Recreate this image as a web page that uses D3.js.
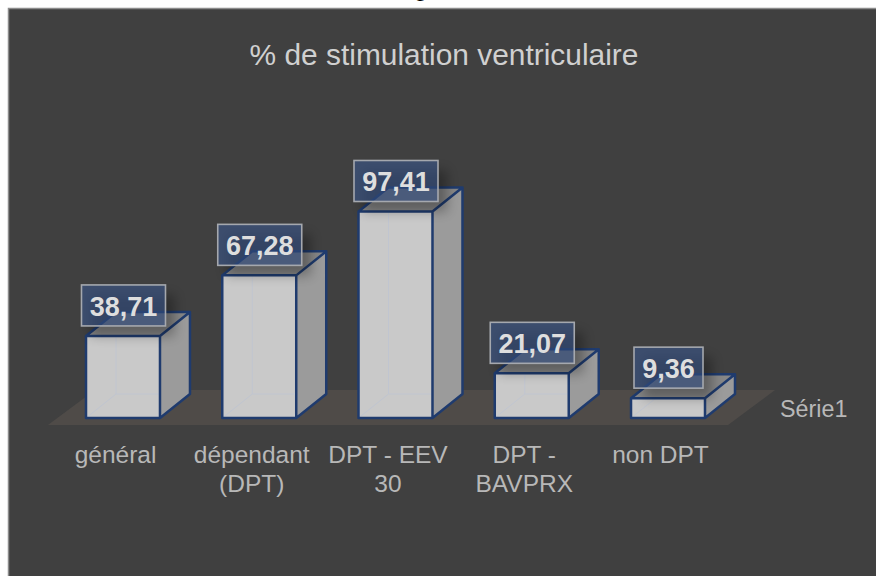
<!DOCTYPE html>
<html><head><meta charset="utf-8">
<script src="https://cdn.jsdelivr.net/npm/d3@7"></script>
<style>html,body{margin:0;padding:0;background:#fff}svg{display:block}text{font-family:"Liberation Sans",Arial,sans-serif}</style>
</head><body><div id="c"></div>
<script>
const categories = [["général"],["dépendant","(DPT)"],["DPT - EEV","30"],["DPT -","BAVPRX"],["non DPT"]];
const values = [38.71,67.28,97.41,21.07,9.36];
const valueLabels = ["38,71","67,28","97,41","21,07","9,36"];
const seriesName = "Série1";
const titleText = "% de stimulation ventriculaire";

const W=876,H=576, dx=30, dy=-24, base=418;
const svg=d3.select("#c").append("svg").attr("width",W).attr("height",H);
const defs=svg.append("defs");
defs.append("filter").attr("id","blur").attr("x","-40%").attr("y","-40%").attr("width","180%").attr("height","180%")
  .append("feGaussianBlur").attr("stdDeviation",6);
const x=d3.scaleBand().domain(d3.range(values.length)).range([86,705]).paddingInner(0.457).paddingOuter(0);
const y=d3.scaleLinear().domain([0,100]).range([base,base-212]);
const bw=x.bandwidth();

svg.append("text").text("g").attr("x",414).attr("y",-4).attr("font-size",24).attr("fill","#000");
svg.append("rect").attr("x",8).attr("y",8).attr("width",W-8).attr("height",H-8).attr("fill","#404040");
svg.append("path").attr("d",`M8.5,${H}V8.5H${W}`).attr("fill","none").attr("stroke","#8c8c8c").attr("stroke-width",1.5);
svg.append("text").text(titleText).attr("x",444).attr("y",65).attr("text-anchor","middle").attr("font-size",29.9).attr("fill","#d0d0d0");

// floor
svg.append("polygon").attr("points",[[48,425],[728,425],[775,390],[95,390]].join(" ")).attr("fill","#4f4b48");

const g=svg.selectAll("g.bar").data(values).join("g").attr("class","bar");
const navy="#1f3b6e";
g.each(function(v,i){
  const s=d3.select(this), l=x(i), r=l+bw, t=y(v);
  const pt=a=>a.map(p=>p.join(",")).join(" ");
  s.append("polygon").attr("points",pt([[l,t],[r,t],[r,base],[l,base]])).attr("fill","#c9c9c9");
  s.append("path").attr("d",`M${l},${base}L${l+dx},${base+dy}H${r+dx}M${l+dx},${base+dy}V${t+dy}`)
    .attr("fill","none").attr("stroke","#c0c5d0").attr("stroke-width",1);
  s.append("polygon").attr("points",pt([[r,t],[r+dx,t+dy],[r+dx,base+dy],[r,base]])).attr("fill","#9b9b9b");
  s.append("polygon").attr("points",pt([[l,t],[l+dx,t+dy],[r+dx,t+dy],[r,t]])).attr("fill","#878787");
  s.append("path").attr("d",`M${l},${t}H${r}V${base}H${l}Z M${l},${t}L${l+dx},${t+dy}H${r+dx}L${r},${t} M${r+dx},${t+dy}V${base+dy}L${r},${base}`)
    .attr("fill","none").attr("stroke",navy).attr("stroke-width",2.5).attr("stroke-linejoin","round");
});

// data labels
const widths=[84,84,84,84,69];
g.each(function(v,i){
  const s=d3.select(this), cx=x(i)+bw/2+0.5, w=widths[i], h=41, bot=y(v)-10;
  s.append("rect").attr("x",cx-w/2+9).attr("y",bot-h+10).attr("width",w).attr("height",h)
    .attr("fill","#000").attr("opacity",.3).attr("filter","url(#blur)");
  s.append("rect").attr("x",cx-w/2).attr("y",bot-h).attr("width",w).attr("height",h)
    .attr("fill","#3a5a94").attr("fill-opacity",.55).attr("stroke","#a5a8ae").attr("stroke-width",1.6);
  s.append("text").text(valueLabels[i]).attr("x",cx).attr("y",bot-10).attr("text-anchor","middle")
    .attr("font-size",27).attr("font-weight","bold").attr("fill","#dedede");
});

// category labels
svg.selectAll("text.cat").data(categories).join("text").attr("class","cat")
  .attr("text-anchor","middle").attr("font-size",24.5).attr("fill","#b8b8b8")
  .each(function(c,i){
    d3.select(this).selectAll("tspan").data(c).join("tspan")
      .attr("x",x(i)+bw/2-7.5).attr("y",(d,j)=>462.5+j*29.5).text(d=>d);
  });
svg.append("text").text(seriesName).attr("x",780).attr("y",417).attr("font-size",23.3).attr("fill","#b8b8b8");
</script></body></html>
